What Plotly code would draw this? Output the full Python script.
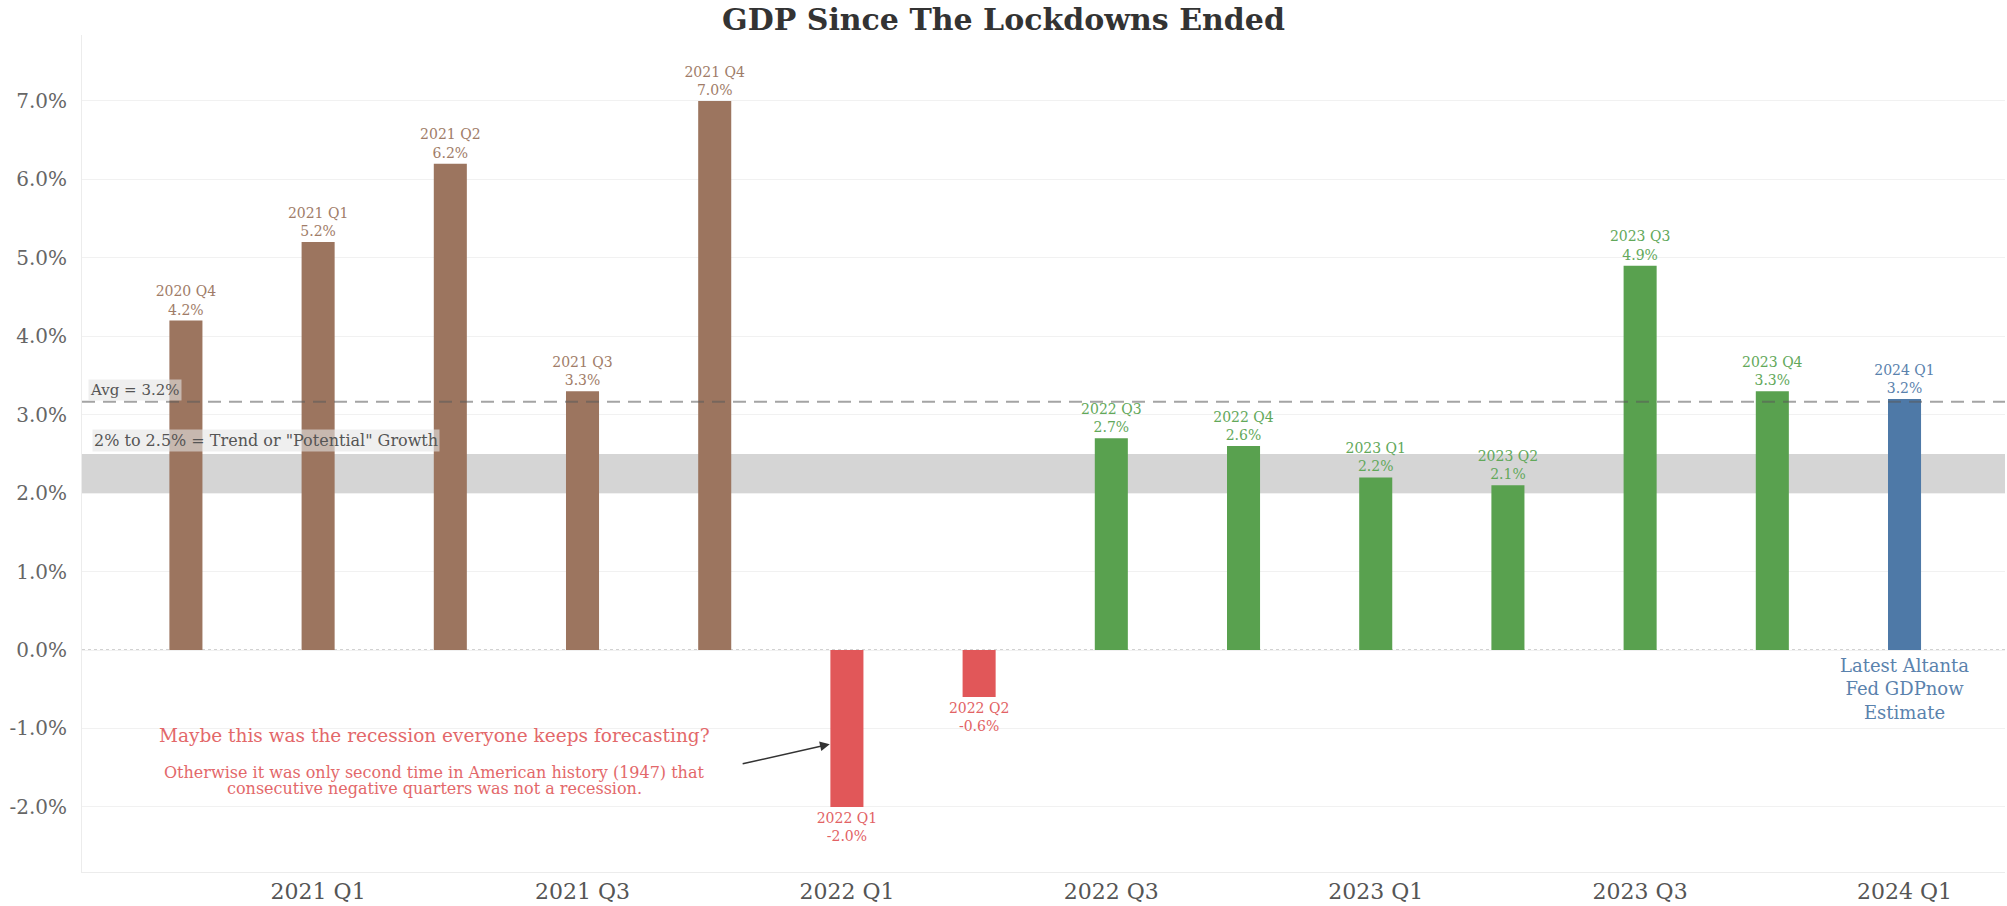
import plotly.graph_objects as go

# ---- data ----
quarters = ["2020 Q4", "2021 Q1", "2021 Q2", "2021 Q3", "2021 Q4",
            "2022 Q1", "2022 Q2", "2022 Q3", "2022 Q4",
            "2023 Q1", "2023 Q2", "2023 Q3", "2023 Q4", "2024 Q1"]
gdp_growth = [4.2, 5.2, 6.2, 3.3, 7.0, -2.0, -0.6, 2.7, 2.6, 2.2, 2.1, 4.9, 3.3, 3.2]
phase = ["reopen", "reopen", "reopen", "reopen", "reopen",
         "negative", "negative",
         "normal", "normal", "normal", "normal", "normal", "normal",
         "estimate"]
tick_quarters = ["2021 Q1", "2021 Q3", "2022 Q1", "2022 Q3", "2023 Q1", "2023 Q3", "2024 Q1"]
trend_band = [2.0, 2.5]

phase_colors = {"reopen": "#9c755f", "negative": "#e15759",
                "normal": "#59a14f", "estimate": "#4e79a7"}
label_colors = {"reopen": "#a07c68", "negative": "#e26264",
                "normal": "#62a85a", "estimate": "#5a82ad"}

avg = sum(gdp_growth) / len(gdp_growth)

FONT = "DejaVu Serif"

fig = go.Figure()
fig.add_trace(go.Bar(
    x=quarters, y=gdp_growth,
    marker=dict(color=[phase_colors[p] for p in phase], line=dict(width=0)),
    width=0.25,
    texttemplate="%{x}<br>%{y:.1f}%",
    textposition="outside",
    constraintext="none",
    cliponaxis=False,
    textfont=dict(family=FONT, size=14, color=[label_colors[p] for p in phase]),
    showlegend=False,
))

shapes = [
    # trend band
    dict(type="rect", xref="paper", x0=0, x1=1, yref="y", y0=trend_band[0], y1=trend_band[1],
         fillcolor="#d5d5d5", line=dict(width=0), layer="below"),
    # zero line
    dict(type="line", xref="paper", x0=0, x1=1, yref="y", y0=0, y1=0,
         line=dict(color="#c4c4c4", width=1.5, dash="dot"), layer="below"),
    # average line
    dict(type="line", xref="paper", x0=0, x1=1, yref="y", y0=avg, y1=avg,
         line=dict(color="rgba(90,90,90,0.55)", width=2, dash="13px,8px"), layer="above"),
]

red_text = "#e3686a"
annotations = [
    dict(text="Avg = %.1f%%" % avg, xref="paper", x=0.003, yref="y", y=avg,
         xanchor="left", yanchor="bottom", showarrow=False, yshift=1,
         font=dict(family=FONT, size=15, color="#555555"),
         bgcolor="rgba(228,228,228,0.6)", borderpad=1),
    dict(text="2% to 2.5% = Trend or \"Potential\" Growth", xref="paper", x=0.005, yref="y",
         y=trend_band[1], xanchor="left", yanchor="bottom", showarrow=False, yshift=2,
         font=dict(family=FONT, size=16, color="#555555"),
         bgcolor="rgba(228,228,228,0.6)", borderpad=1),
    dict(text="Maybe this was the recession everyone keeps forecasting?",
         xref="x", x=1.88, yref="y", y=-1.09, showarrow=False,
         font=dict(family=FONT, size=18.5, color=red_text)),
    dict(text="Otherwise it was only second time in American history (1947) that",
         xref="x", x=1.88, yref="y", y=-1.56, showarrow=False,
         font=dict(family=FONT, size=16, color=red_text)),
    dict(text="consecutive negative quarters was not a recession.",
         xref="x", x=1.88, yref="y", y=-1.77, showarrow=False,
         font=dict(family=FONT, size=16, color=red_text)),
    dict(text="", xref="x", x=4.87, yref="y", y=-1.20,
         axref="x", ax=4.20, ayref="y", ay=-1.455,
         showarrow=True, arrowhead=2, arrowsize=1.3, arrowwidth=1.5, arrowcolor="#333333"),
    dict(text="Latest Altanta<br>Fed GDPnow<br>Estimate", xref="x", x=quarters[-1],
         yref="y", y=0, yanchor="top", yshift=-3, showarrow=False,
         font=dict(family=FONT, size=18, color="#5a82ad")),
]

fig.update_layout(
    width=2007, height=906,
    margin=dict(l=82, r=2, t=35, b=29),
    paper_bgcolor="white", plot_bgcolor="white",
    title=dict(text="<b>GDP Since The Lockdowns Ended</b>", x=0.5, xanchor="center",
               y=0.978, yanchor="middle", yref="container",
               font=dict(family=FONT, size=30, color="#333333")),
    bargap=0.75,
    shapes=shapes,
    annotations=annotations,
    xaxis=dict(type="category", range=[-0.786, 13.76],
               tickmode="array", tickvals=tick_quarters, ticktext=tick_quarters,
               showgrid=False, zeroline=False, showline=True, linecolor="#ececec",
               ticks="", tickfont=dict(family=FONT, size=22, color="#555555")),
    yaxis=dict(range=[-2.83, 7.84], tickmode="array",
               tickvals=[-2, -1, 0, 1, 2, 3, 4, 5, 6, 7],
               ticktext=["-2.0%", "-1.0%", "0.0%", "1.0%", "2.0%", "3.0%",
                         "4.0%", "5.0%", "6.0%", "7.0%"],
               showgrid=True, gridcolor="#f1f1f1", gridwidth=1,
               zeroline=False, showline=True, linecolor="#ececec",
               ticks="outside", ticklen=10, tickcolor="rgba(0,0,0,0)",
               tickfont=dict(family=FONT, size=20, color="#666666")),
)

fig.write_html("out.html")
